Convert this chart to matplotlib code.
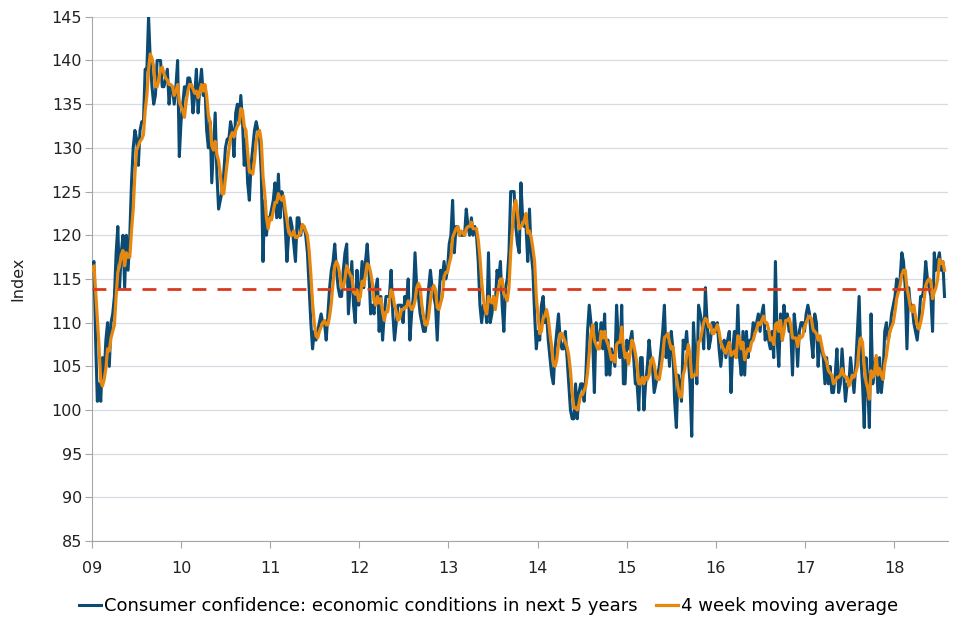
import numpy as np
import pandas as pd
import matplotlib
matplotlib.use("Agg")
import matplotlib.pyplot as plt
import matplotlib.dates as mdates

# weekly index values
cc_2009 = [116, 117, 108, 101, 103, 101, 106, 104, 108, 110, 105, 110, 111, 113, 118, 121, 114, 118,
           120, 114, 120, 116, 120, 126, 130, 132, 131, 128, 132, 133, 133, 139, 139, 145, 140, 137,
           135, 136, 140, 140, 140, 137, 137, 138, 139, 135, 137, 137, 135, 137, 140, 129]
cc_2010 = [133, 135, 137, 136, 138, 138, 137, 134, 136, 139, 134, 137, 139, 136, 137, 132, 130, 133,
           126, 130, 134, 127, 123, 124, 125, 127, 130, 131, 131, 133, 132, 129, 134, 135, 133, 136,
           133, 128, 131, 126, 124, 128, 130, 132, 133, 132, 131, 127, 117, 124, 120, 122]
cc_2011 = [122, 123, 124, 126, 122, 127, 122, 125, 124, 121, 117, 120, 122, 121, 119, 117, 122, 122,
           120, 121, 121, 120, 118, 114, 110, 107, 109, 108, 109, 110, 111, 110, 110, 108, 111, 114,
           116, 117, 119, 116, 114, 113, 113, 116, 118, 119, 111, 114, 117, 112, 110, 116]
cc_2012 = [112, 114, 117, 114, 117, 119, 116, 111, 112, 111, 114, 115, 109, 113, 108, 111, 113, 113,
           113, 116, 111, 108, 110, 112, 112, 112, 110, 113, 112, 115, 108, 111, 113, 118, 114, 113,
           111, 110, 109, 109, 111, 114, 116, 114, 113, 112, 108, 113, 116, 115, 117, 115]
cc_2013 = [116, 119, 120, 124, 118, 121, 121, 120, 120, 120, 120, 123, 121, 120, 122, 120, 121, 120,
           117, 112, 110, 112, 112, 110, 118, 110, 111, 113, 112, 116, 115, 117, 112, 109, 114, 115,
           118, 125, 125, 125, 121, 119, 118, 126, 122, 121, 121, 117, 123, 118, 116, 111]
cc_2014 = [107, 109, 108, 112, 113, 110, 111, 108, 106, 104, 103, 107, 109, 111, 108, 107, 107, 109,
           106, 103, 100, 99, 99, 103, 99, 102, 103, 103, 101, 104, 109, 112, 110, 108, 102, 110,
           108, 108, 110, 107, 111, 104, 108, 104, 107, 106, 105, 112, 108, 106, 112, 103]
cc_2015 = [103, 108, 107, 108, 109, 106, 103, 103, 100, 106, 106, 100, 103, 105, 108, 106, 105, 102,
           103, 104, 105, 107, 109, 112, 106, 108, 105, 109, 107, 101, 98, 104, 103, 101, 108, 107,
           109, 106, 103, 97, 110, 106, 103, 112, 111, 110, 107, 114, 110, 107, 108, 110]
cc_2016 = [110, 109, 110, 107, 105, 107, 108, 106, 108, 109, 102, 107, 109, 106, 112, 106, 104, 109,
           104, 109, 106, 108, 108, 110, 109, 110, 111, 109, 111, 112, 108, 109, 108, 107, 109, 106,
           117, 108, 105, 111, 108, 112, 110, 111, 109, 109, 104, 111, 109, 105, 109, 110]
cc_2017 = [110, 109, 111, 112, 111, 108, 106, 111, 110, 105, 108, 107, 106, 103, 106, 103, 105, 102,
           102, 104, 107, 102, 103, 107, 104, 101, 103, 103, 106, 104, 102, 105, 109, 113, 106, 103,
           98, 106, 103, 98, 111, 103, 105, 106, 102, 106, 102, 104, 109, 110, 108, 109]
cc_2018 = [111, 112, 113, 115, 114, 115, 118, 117, 114, 107, 114, 112, 112, 110, 109, 108, 110, 113,
           113, 114, 117, 115, 114, 113, 109, 118, 116, 117, 118, 116, 117, 113]

avg_level = 113.9
y_ticks = list(range(85, 150, 5))
series_label = "Consumer confidence: economic conditions in next 5 years"
ma_label = "4 week moving average"

blue = "#0b4a72"
orange = "#e8870e"
red = "#d93a1e"

values = np.concatenate([cc_2009, cc_2010, cc_2011, cc_2012, cc_2013,
                         cc_2014, cc_2015, cc_2016, cc_2017, cc_2018])
dates = pd.date_range("2009-01-02", periods=len(values), freq="7D")
ma4 = pd.Series(values, index=dates).rolling(4, min_periods=1).mean()

fig, ax = plt.subplots(figsize=(9.58, 6.22), dpi=100)
fig.subplots_adjust(left=0.096, right=0.99, bottom=0.13, top=0.973)

ax.plot(dates, values, color=blue, lw=2.2, label=series_label, zorder=3)
ax.plot(dates, ma4.values, color=orange, lw=2.3, label=ma_label, zorder=4)
ax.hlines(avg_level, dates[0], dates[-4], colors=red, linestyles=(0, (5, 4)), lw=2.0, zorder=5)

ax.set_xlim(pd.Timestamp("2009-01-01"), pd.Timestamp("2018-08-12"))
ax.set_ylim(85, 145)
ax.set_yticks(y_ticks)
ax.xaxis.set_major_locator(mdates.YearLocator())
ax.xaxis.set_major_formatter(mdates.DateFormatter("%y"))

ax.grid(axis="y", color="#d6dce2", lw=0.9)
ax.set_axisbelow(True)
for s in ["top", "right"]:
    ax.spines[s].set_visible(False)
for s in ["left", "bottom"]:
    ax.spines[s].set_color("#a6a6a6")
ax.tick_params(axis="both", colors="#a6a6a6", labelcolor="#222222", labelsize=11.5, length=5)
ax.tick_params(axis="x", pad=9)
ax.tick_params(axis="y", pad=2)
ax.set_ylabel("Index", fontsize=11.5, color="#222222", labelpad=19)

fig.legend(loc="center", bbox_to_anchor=(0.51, 0.026), ncol=2, frameon=False, fontsize=13,
           handlelength=1.2, handletextpad=0.2, columnspacing=1.0)

fig.savefig("out.png", dpi=100)
